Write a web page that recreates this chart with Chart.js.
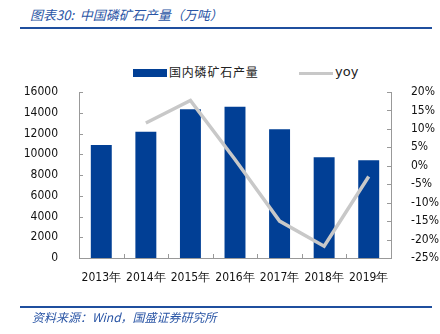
<!DOCTYPE html>
<html>
<head>
<meta charset="utf-8">
<script src="https://cdn.jsdelivr.net/npm/chart.js@4"></script>
<style>
  html, body { margin: 0; padding: 0; background: #fff; }
  #wrap { position: relative; width: 440px; height: 334px; overflow: hidden; }
  #chart { position: absolute; left: 0; top: 0; }
  .title { position: absolute; left: 30px; top: 5px; font: italic 13px "Noto Sans CJK SC", "DejaVu Sans", sans-serif; color: #2a55a5; white-space: nowrap; }
  .rule { position: absolute; left: 20px; width: 412px; height: 2px; background: #1f4f9e; }
  .source { position: absolute; left: 32px; top: 308px; font: italic 12px "Noto Sans CJK SC", "DejaVu Sans", sans-serif; color: #2a55a5; white-space: nowrap; }
  .legend { position: absolute; top: 63px; left: 133px; font: 12px "Noto Sans CJK SC", sans-serif; color: #222; white-space: nowrap; }
  .legend span { position: absolute; top: 0; }
  .sw-bar { position: absolute; left: 0; top: 6px; width: 34px; height: 8px; background: #013f95; }
  .sw-line { position: absolute; left: 166px; top: 9px; width: 34px; height: 3px; background: #c8c8c8; }
</style>
</head>
<body>
<div id="wrap">
  <div class="title">图表30:&nbsp; 中国磷矿石产量（万吨）</div>
  <div class="rule" style="top:27px"></div>
  <div class="legend">
    <div class="sw-bar"></div>
    <span style="left:36px; letter-spacing:0.8px">国内磷矿石产量</span>
    <div class="sw-line"></div>
    <span style="left:202px; font-family:'DejaVu Sans', sans-serif; font-size:13px; top:1px">yoy</span>
  </div>
  <canvas id="chart" width="440" height="334"></canvas>
  <div class="rule" style="top:306px"></div>
  <div class="source">资料来源：Wind，国盛证券研究所</div>
</div>
<script>
const years = ['2013年', '2014年', '2015年', '2016年', '2017年', '2018年', '2019年'];
const output = [10900, 12170, 14330, 14580, 12400, 9700, 9420];   // 万吨
const yoy = [null, 11.6, 17.7, 1.7, -15.0, -21.8, -2.9];          // %

const axisColor = '#999';
const tickFont = { family: "'DejaVu Sans Condensed', 'DejaVu Sans', sans-serif", size: 12 };

// short tick marks that point into the plot area
const innerTicks = {
  id: 'innerTicks',
  afterDraw(chart) {
    const ctx = chart.ctx;
    const { x, y, y1 } = chart.scales;
    ctx.save();
    ctx.strokeStyle = axisColor;
    ctx.lineWidth = 1;
    ctx.beginPath();
    y.ticks.forEach((t, i) => {
      const py = Math.round(y.getPixelForTick(i)) + 0.5;
      ctx.moveTo(y.right, py); ctx.lineTo(y.right + 4, py);
    });
    y1.ticks.forEach((t, i) => {
      const py = Math.round(y1.getPixelForTick(i)) + 0.5;
      ctx.moveTo(y1.left, py); ctx.lineTo(y1.left - 4, py);
    });
    const step = (x.right - x.left) / years.length;
    for (let i = 1; i < years.length; i++) {
      const px = Math.round(x.left + step * i) + 0.5;
      ctx.moveTo(px, x.top); ctx.lineTo(px, x.top - 4);
    }
    ctx.stroke();
    ctx.restore();
  }
};

new Chart(document.getElementById('chart'), {
  data: {
    labels: years,
    datasets: [
      {
        type: 'line',
        label: 'yoy',
        data: yoy,
        yAxisID: 'y1',
        borderColor: '#c8c8c8',
        borderWidth: 3.5,
        pointRadius: 0,
        tension: 0,
        order: 0
      },
      {
        type: 'bar',
        label: '国内磷矿石产量',
        data: output,
        yAxisID: 'y',
        backgroundColor: '#013f95',
        categoryPercentage: 1,
        barPercentage: 0.47,
        order: 1
      }
    ]
  },
  options: {
    responsive: false,
    animation: false,
    layout: { padding: { left: 0, right: 0, top: 92, bottom: 40 } },
    plugins: { legend: { display: false }, tooltip: { enabled: false } },
    scales: {
      x: {
        offset: true,
        grid: { display: false },
        border: { color: axisColor },
        ticks: { color: '#111', font: tickFont, padding: 5, maxRotation: 0 },
        afterFit: s => { s.height = 36; }
      },
      y: {
        position: 'left',
        min: 0, max: 16000,
        grid: { display: false },
        border: { color: axisColor },
        ticks: { stepSize: 2000, color: '#111', font: tickFont, padding: 13, callback: v => String(v) },
        afterFit: s => { s.width = 79; }
      },
      y1: {
        position: 'right',
        min: -25, max: 20,
        grid: { display: false },
        border: { color: axisColor },
        ticks: { stepSize: 5, color: '#111', font: tickFont, padding: 12, callback: v => v + '%' },
        afterFit: s => { s.width = 49; }
      }
    }
  },
  plugins: [innerTicks]
});
</script>
</body>
</html>
